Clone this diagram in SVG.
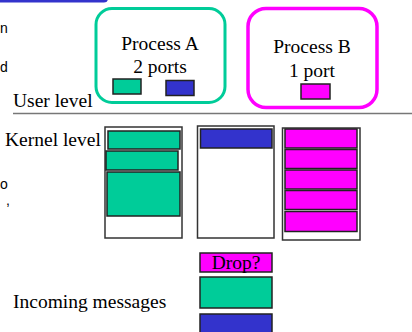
<svg xmlns="http://www.w3.org/2000/svg" width="412" height="332" viewBox="0 0 412 332">
<style>
.t{font-family:"Liberation Serif","Times New Roman",serif;font-size:19.5px;fill:#000}
.f{font-family:"Liberation Sans",Arial,sans-serif;font-size:14px;fill:#000}
.teal{fill:#00cc99;stroke:#222;stroke-width:1.5}
.blue{fill:#3333cc;stroke:#222;stroke-width:1.5}
.mag{fill:#ff00ff;stroke:#222;stroke-width:1.5}
.box{fill:#fff;stroke:#333;stroke-width:1.5}
</style>
<rect width="412" height="332" fill="#fff"/>
<g id="fragments">
<rect x="-10" y="-6" width="118" height="8.5" rx="4" fill="#3333cc"/>
<text class="f" x="0" y="33">n</text>
<text class="f" x="0" y="72">d</text>
<text class="f" x="0" y="189">o</text>
<text class="f" x="6" y="205">,</text>
</g>
<g id="processA">
<rect x="96" y="8.5" width="129" height="94" rx="16" fill="#fff" stroke="#00cc99" stroke-width="3"/>
<text class="t" x="160" y="50" text-anchor="middle">Process A</text>
<text class="t" x="160" y="73" text-anchor="middle">2 ports</text>
<rect class="teal" x="113" y="79" width="28" height="15"/>
<rect class="blue" x="166" y="80.5" width="28" height="15"/>
</g>
<g id="processB">
<rect x="248" y="8.5" width="129" height="99" rx="18" fill="#fff" stroke="#ff00ff" stroke-width="3.5"/>
<text class="t" x="312" y="53" text-anchor="middle">Process B</text>
<text class="t" x="312" y="77" text-anchor="middle">1 port</text>
<rect class="mag" x="301" y="84" width="29" height="15"/>
</g>
<g id="levels">
<text class="t" x="13" y="107">User level</text>
<line x1="13" y1="113.5" x2="412" y2="113.5" stroke="#777" stroke-width="1.5"/>
<text class="t" x="5" y="146">Kernel level</text>
</g>
<g id="kernelA">
<rect class="box" x="105" y="127" width="77" height="111"/>
<rect class="teal" x="108" y="131" width="72" height="18"/>
<rect class="teal" x="106" y="151" width="72" height="19"/>
<rect class="teal" x="107" y="172" width="73" height="44"/>
</g>
<g id="kernelMid">
<rect class="box" x="197.5" y="126" width="76.5" height="112"/>
<rect class="blue" x="200.5" y="129" width="71.5" height="19"/>
</g>
<g id="kernelB">
<rect class="box" x="282.5" y="128" width="77.5" height="112"/>
<rect class="mag" x="285" y="129" width="72" height="19"/>
<rect class="mag" x="285" y="149.5" width="72" height="19"/>
<rect class="mag" x="285" y="170" width="72" height="19"/>
<rect class="mag" x="285" y="190.5" width="72" height="19"/>
<rect class="mag" x="285" y="211.5" width="72" height="20"/>
</g>
<g id="incoming">
<text class="t" x="13" y="308">Incoming messages</text>
<rect class="mag" x="200" y="253" width="72" height="19"/>
<text class="t" x="236" y="269" text-anchor="middle">Drop?</text>
<rect class="teal" x="200" y="277" width="72" height="31"/>
<rect class="blue" x="200" y="314" width="72" height="24"/>
</g>
</svg>
